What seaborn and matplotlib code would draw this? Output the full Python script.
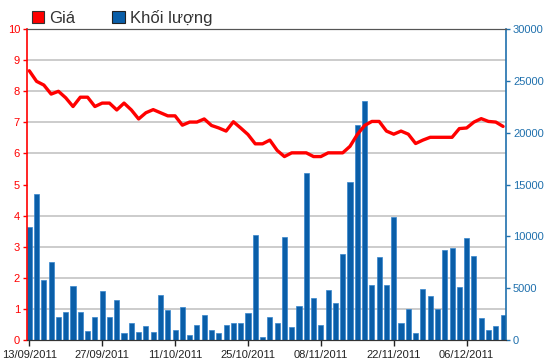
import numpy as np
import pandas as pd
import matplotlib.pyplot as plt
from matplotlib.patches import Patch
import seaborn as sns

sns.set_style("white")
plt.rcParams['font.family'] = ['Liberation Sans', 'DejaVu Sans']

# Trading days 13/09/2011 - 13/12/2011
dates = pd.bdate_range('2011-09-13', periods=66).strftime('%d/%m/%Y')

price = [8.66, 8.32, 8.20, 7.91, 8.00, 7.79, 7.51, 7.81, 7.81, 7.51,
         7.62, 7.62, 7.40, 7.62, 7.40, 7.11, 7.31, 7.41, 7.31, 7.21,
         7.21, 6.91, 7.01, 7.01, 7.11, 6.90, 6.82, 6.72, 7.02, 6.82,
         6.61, 6.31, 6.31, 6.43, 6.10, 5.90, 6.02, 6.02, 6.02, 5.90,
         5.90, 6.02, 6.02, 6.02, 6.23, 6.61, 6.90, 7.03, 7.03, 6.72,
         6.62, 6.72, 6.62, 6.32, 6.43, 6.52, 6.52, 6.52, 6.52, 6.80,
         6.82, 7.01, 7.12, 7.03, 7.01, 6.87]

volume = [10900, 14050, 5770, 7480, 2180, 2660, 5200, 2660, 870, 2180,
          4680, 2180, 3850, 640, 1600, 740, 1320, 740, 4330, 2890,
          960, 3140, 510, 1440, 2410, 960, 640, 1440, 1600, 1600,
          2570, 10100, 320, 2180, 1600, 9950, 1220, 3280, 16080, 4020,
          1440, 4810, 3550, 8280, 15240, 20730, 23100, 5290, 8050, 5290,
          11890, 1600, 3000, 640, 4900, 4230, 3000, 8700, 8920, 5070,
          9850, 8080, 2115, 960, 1350, 2440]

tick_labels = ['13/09/2011', '27/09/2011', '11/10/2011', '25/10/2011',
               '08/11/2011', '22/11/2011', '06/12/2011']

df = pd.DataFrame({'date': dates, 'price': price, 'volume': volume})
df['pos'] = np.arange(len(df))

RED = '#ff0000'
BLUE = '#0a5ea8'
AXBLUE = '#1f70ad'

fig = plt.figure(figsize=(5.5, 3.64), dpi=100)
ax = fig.add_axes([0.049, 0.066, 0.871, 0.854])
ax2 = ax.twinx()
ax.set_zorder(2)
ax2.set_zorder(1)
ax.patch.set_visible(False)
ax2.patch.set_visible(True)
ax2.patch.set_facecolor('white')

# volume bars (right axis)
sns.barplot(data=df, x='pos', y='volume', ax=ax2, native_scale=True,
            color=BLUE, saturation=1, width=0.7,
            edgecolor='#3585cc', linewidth=0.5)
ax2.set_ylim(0, 30000)
ax2.set_yticks(range(0, 30001, 5000))
ax2.set_yticks(np.arange(0, 30001, 3000), minor=True)
ax2.grid(which='minor', axis='y', color='#c8c8c8', lw=1.3)
ax2.grid(which='major', visible=False)
ax2.tick_params(axis='y', which='minor', length=0)
ax2.tick_params(axis='y', which='major', colors=AXBLUE, labelsize=8,
                length=3, width=1, pad=2, direction='out')
ax2.set_ylabel('')
ax2.set_xlabel('')

# price line (left axis)
sns.lineplot(data=df, x='pos', y='price', ax=ax, color=RED, lw=2.4)
ax.set_ylim(0, 10)
ax.set_yticks(range(0, 11))
ax.tick_params(axis='y', colors=RED, labelsize=8, length=3, width=1,
               pad=2, direction='out')
ax.set_ylabel('')
ax.set_xlabel('')

tick_pos = df.loc[df['date'].isin(tick_labels), 'pos'].tolist()
ax.set_xlim(-0.32, 65.4)
ax.set_xticks(tick_pos)
ax.set_xticklabels(tick_labels)
ax.tick_params(axis='x', colors='#222222', labelsize=8, length=4,
               width=1, pad=3, direction='out', bottom=True)

for a in (ax, ax2):
    a.spines['top'].set_color('#555555')
    a.spines['bottom'].set_color('#333333')
ax.spines['left'].set_color(RED)
ax.spines['left'].set_linewidth(1.2)
ax.spines['right'].set_visible(False)
ax2.spines['left'].set_visible(False)
ax2.spines['right'].set_color(AXBLUE)
ax2.spines['right'].set_linewidth(1.2)

handles = [Patch(facecolor=RED, edgecolor='#333333', lw=0.8, label='Giá'),
           Patch(facecolor=BLUE, edgecolor='#222222', lw=0.8, label='Khối lượng')]
fig.legend(handles=handles, loc='center left', bbox_to_anchor=(0.058, 0.95),
           ncol=2, frameon=False, fontsize=12, handlelength=0.75,
           handleheight=0.75, handletextpad=0.3, columnspacing=2.2,
           borderpad=0, borderaxespad=0, labelcolor='#333333')

fig.savefig('out.png', dpi=100)
